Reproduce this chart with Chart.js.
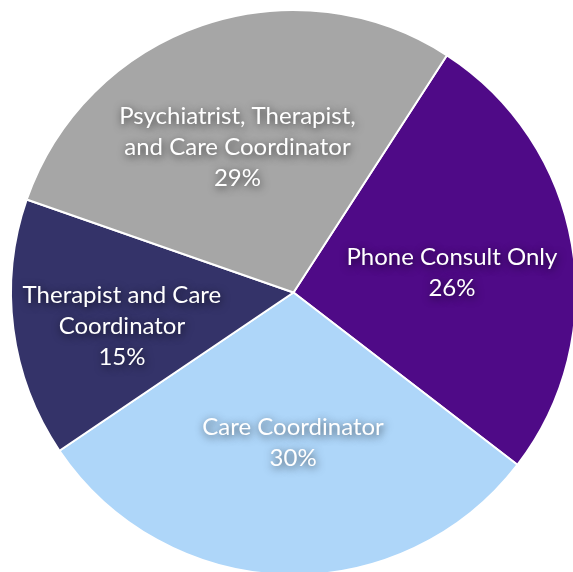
<!DOCTYPE html>
<html>
<head>
<meta charset="utf-8">
<script src="https://cdn.jsdelivr.net/npm/chart.js@4"></script>
<style>
  html, body { margin: 0; padding: 0; background: #ffffff; overflow: hidden; width: 573px; height: 572px; }
  #wrap { position: absolute; left: 0; top: 0; width: 592px; height: 592px; }
</style>
</head>
<body>
<div id="wrap"><canvas id="c" width="592" height="592"></canvas></div>
<script>
// Data
const categories = ["Phone Consult Only", "Care Coordinator", "Therapist and Care Coordinator", "Psychiatrist, Therapist, and Care Coordinator"];
const labelLines = [["Phone Consult Only"], ["Care Coordinator"], ["Therapist and Care", "Coordinator"], ["Psychiatrist, Therapist,", "and Care Coordinator"]];
const shares = [26.3, 30.1, 14.8, 28.8];
const percentLabels = ["26%", "30%", "15%", "29%"];

// Styles
const colors = ["#4f0a87", "#aed6f9", "#343369", "#a6a6a6"];
const labelRadius = [0.565, 0.533, 0.619, 0.551];
const labelAngleShift = [2.75, -1.6, -3.7, -2.15]; // degrees

const labelPlugin = {
  id: 'sliceLabels',
  afterDatasetsDraw(chart) {
    const ctx = chart.ctx;
    const meta = chart.getDatasetMeta(0);
    ctx.save();
    ctx.font = '24px "Lato", "Open Sans", sans-serif';
    ctx.textAlign = 'center';
    ctx.textBaseline = 'middle';
    ctx.fillStyle = '#ffffff';
    ctx.shadowColor = 'rgba(0,0,0,0.7)';
    ctx.shadowBlur = 8;
    ctx.shadowOffsetX = 1;
    ctx.shadowOffsetY = 2;
    const lh = 31;
    meta.data.forEach((arc, i) => {
      const p = arc.getProps(['x', 'y', 'startAngle', 'endAngle', 'outerRadius'], true);
      const mid = (p.startAngle + p.endAngle) / 2 + labelAngleShift[i] * Math.PI / 180;
      const r = p.outerRadius * labelRadius[i];
      const cx = p.x + Math.cos(mid) * r;
      const cy = p.y + Math.sin(mid) * r;
      const lines = labelLines[i].concat([percentLabels[i]]);
      const top = cy - (lines.length - 1) * lh / 2;
      lines.forEach((t, k) => ctx.fillText(t, cx, top + k * lh));
    });
    ctx.restore();
  }
};

new Chart(document.getElementById('c'), {
  type: 'pie',
  data: {
    labels: categories,
    datasets: [{
      data: shares,
      backgroundColor: colors,
      borderColor: '#ffffff',
      borderWidth: 2
    }]
  },
  options: {
    responsive: false,
    animation: false,
    rotation: 32.9,
    layout: { padding: { left: 10, top: 9, right: 15, bottom: 16 } },
    plugins: { legend: { display: false }, tooltip: { enabled: false } }
  },
  plugins: [labelPlugin]
});
</script>
</body>
</html>
